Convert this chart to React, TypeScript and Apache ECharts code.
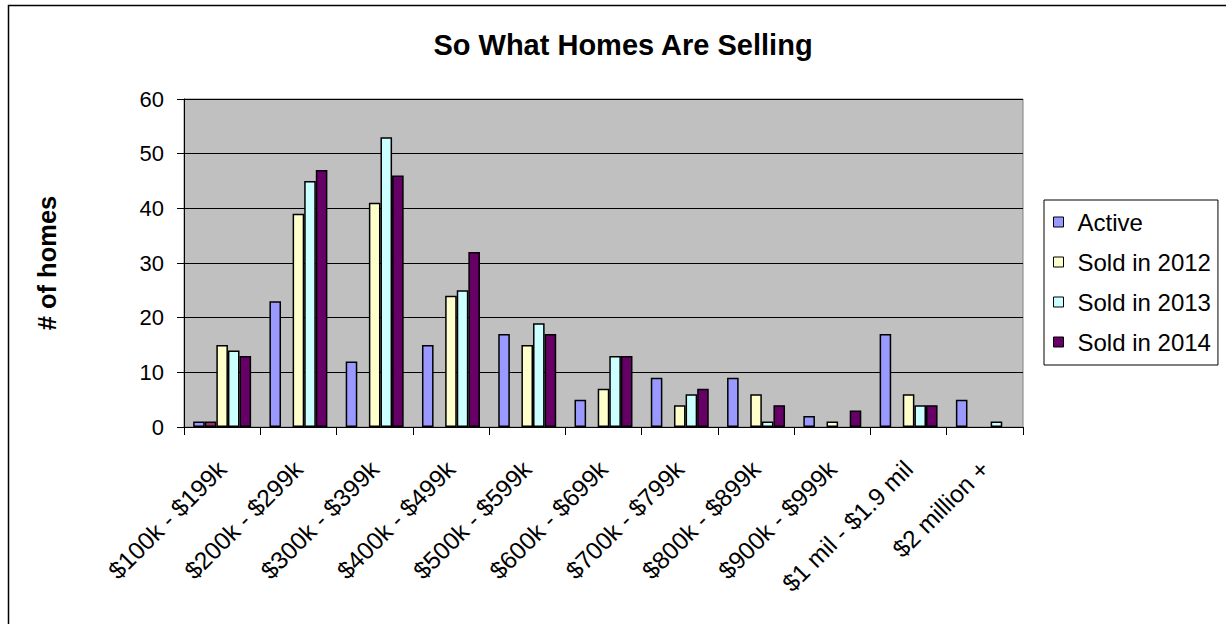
import React, { useEffect, useRef } from "react";
import * as echarts from "echarts";

const categories = [
  "$100k - $199k",
  "$200k - $299k",
  "$300k - $399k",
  "$400k - $499k",
  "$500k - $599k",
  "$600k - $699k",
  "$700k - $799k",
  "$800k - $899k",
  "$900k - $999k",
  "$1 mil - $1.9 mil",
  "$2 million +",
];

const active = [1, 23, 12, 15, 17, 5, 9, 9, 2, 17, 5];
const extraSeries = [1, 0, 0, 0, 0, 0, 0, 0, 0, 0, 0];
const sold2012 = [15, 39, 41, 24, 15, 7, 4, 6, 1, 6, 0];
const sold2013 = [14, 45, 53, 25, 19, 13, 6, 1, 0, 4, 1];
const sold2014 = [13, 47, 46, 32, 17, 13, 7, 4, 3, 4, 0];

const yTicks = [0, 10, 20, 30, 40, 50, 60];

const FONT = "'Liberation Sans', Arial, Helvetica, sans-serif";

export default function App() {
  const ref = useRef<HTMLDivElement>(null);

  useEffect(() => {
    document.body.style.margin = "0";
    if (!ref.current) return;
    const chart = echarts.init(ref.current, undefined, { renderer: "svg" });

    const mk = (name: string, data: number[], color: string) => ({
      name,
      type: "bar",
      data: data.map((v) => (v === 0 ? null : v)),
      barGap: "0%",
      barCategoryGap: "24%",
      itemStyle: { color, borderColor: "#000", borderWidth: 1.5 },
    });

    chart.setOption({
      animation: false,
      backgroundColor: "#fff",
      textStyle: { fontFamily: FONT },
      title: {
        text: "So What Homes Are Selling",
        left: 618,
        textAlign: "center",
        top: 25,
        textStyle: { fontFamily: FONT, fontSize: 29, fontWeight: "bold", color: "#000" },
      },
      legend: {
        data: ["Active", "Sold in 2012", "Sold in 2013", "Sold in 2014"],
        orient: "vertical",
        left: 1044,
        top: 200,
        padding: [10, 7, 11, 9],
        borderColor: "#000",
        borderWidth: 1,
        itemWidth: 10,
        itemHeight: 10,
        itemGap: 16,
        icon: "rect",
        textStyle: {
          fontFamily: FONT,
          fontSize: 24,
          color: "#000",
          lineHeight: 22,
          padding: [0, 0, 0, 9],
        },
        itemStyle: { borderColor: "#000", borderWidth: 1 },
        selectedMode: false,
      },
      grid: {
        left: 184,
        right: 203,
        top: 99,
        bottom: 197,
        show: true,
        backgroundColor: "#C0C0C0",
        borderColor: "#808080",
        borderWidth: 1,
      },
      xAxis: {
        type: "category",
        data: categories,
        boundaryGap: true,
        axisLine: { show: true, lineStyle: { color: "#000", width: 1 } },
        axisTick: { show: true, inside: false, length: 8, lineStyle: { color: "#000" } },
        axisLabel: {
          rotate: 45,
          interval: 0,
          margin: 38,
          fontFamily: FONT,
          fontSize: 24.5,
          color: "#000",
        },
      },
      yAxis: {
        type: "value",
        min: yTicks[0],
        max: yTicks[yTicks.length - 1],
        interval: 10,
        name: "# of homes",
        nameLocation: "middle",
        nameRotate: 90,
        nameGap: 124,
        nameTextStyle: { fontFamily: FONT, fontSize: 25.5, fontWeight: "bold", color: "#000" },
        axisLine: { show: true, lineStyle: { color: "#000", width: 1 } },
        axisTick: { show: true, inside: false, length: 7, lineStyle: { color: "#000" } },
        axisLabel: { margin: 20, fontFamily: FONT, fontSize: 22, color: "#000" },
        splitLine: { show: true, lineStyle: { color: "#000", width: 1 } },
      },
      series: [
        mk("Active", active, "#9999FF"),
        mk("Other", extraSeries, "#993366"),
        mk("Sold in 2012", sold2012, "#FFFFCC"),
        mk("Sold in 2013", sold2013, "#CCFFFF"),
        mk("Sold in 2014", sold2014, "#660066"),
      ],
      graphic: [
        {
          type: "rect",
          shape: { x: 8.5, y: 5.5, width: 1300, height: 700 },
          style: { fill: "none", stroke: "#000", lineWidth: 1.5 },
          silent: true,
          z: 100,
        },
      ],
    });

    return () => chart.dispose();
  }, []);

  return <div ref={ref} style={{ width: 1226, height: 624 }} />;
}
